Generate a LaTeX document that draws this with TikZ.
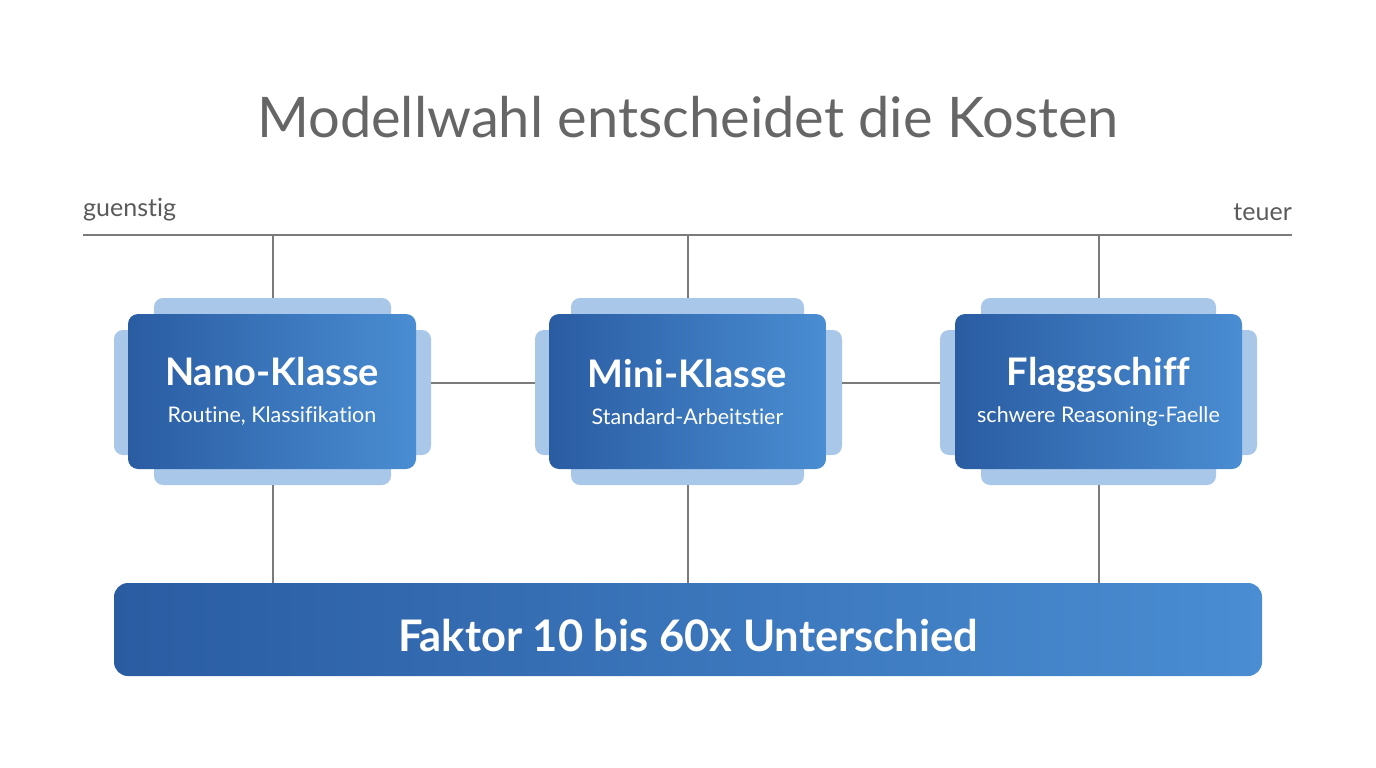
\documentclass[tikz,border=0pt]{standalone}
\usepackage{fontspec}
\setmainfont{Lato}[Ligatures=NoCommon]
\usetikzlibrary{positioning}
\definecolor{dunkelblau}{HTML}{2A5CA2}
\definecolor{hellblau}{HTML}{4A8DD2}
\definecolor{blassblau}{HTML}{A9C8E9}
\definecolor{linie}{HTML}{7B7B7B}
\definecolor{titelgrau}{HTML}{666666}
\definecolor{textgrau}{HTML}{5A5A5A}
\tikzset{
  klasse/.style={rounded corners=10pt,left color=dunkelblau,right color=hellblau,
    minimum width=288pt,minimum height=155pt,inner sep=0pt,text=white,align=center,
    font=\fontsize{21.5}{37}\selectfont},
  schatten/.style={rounded corners=9pt,fill=blassblau,inner sep=0pt},
  verbinder/.style={draw=linie,line width=2pt},
}
\newcommand{\kopfzeile}[1]{{\fontsize{38}{37}\selectfont\bfseries #1}}
\begin{document}
\begin{tikzpicture}[x=1pt,y=-1pt]
\path[use as bounding box] (0,0) rectangle (1376,768);
% titel und achse
\node[anchor=center,inner sep=0pt,text=titelgrau,font=\fontsize{56}{62}\selectfont] (titel) at (688,117) {Modellwahl entscheidet die Kosten};
\node[anchor=south west,inner sep=0pt,text=textgrau,font=\fontsize{25}{28}\selectfont] (guenstig) at (83,221) {guenstig};
\node[anchor=south east,inner sep=0pt,text=textgrau,font=\fontsize{25}{28}\selectfont] (teuer) at (1292,221) {teuer};
\coordinate (links) at (83,235);
\coordinate (rechts) at (1292,235);
\draw[verbinder] (links) -- (rechts);
% nano
\node[schatten,minimum width=237pt,minimum height=187pt] (nanoT) at (272.5,391.5) {};
\node[schatten,minimum width=317pt,minimum height=125pt] (nanoB) at (272.5,392.5) {};
\node[klasse] (nano) at (272,391.5) {\kopfzeile{Nano-Klasse}\\Routine, Klassifikation};
% mini
\node[schatten,minimum width=233pt,minimum height=187pt] (miniT) at (687.5,391.5) {};
\node[schatten,minimum width=307pt,minimum height=125pt] (miniB) at (688.5,392.5) {};
\node[klasse,minimum width=277pt] (mini) at (687.5,391.5) {\kopfzeile{Mini-Klasse}\\Standard-Arbeitstier};
% flaggschiff
\node[schatten,minimum width=235pt,minimum height=187pt] (flaggT) at (1098.5,391.5) {};
\node[schatten,minimum width=317pt,minimum height=125pt] (flaggB) at (1098.5,392.5) {};
\node[klasse,minimum width=287pt] (flagg) at (1098.5,391.5) {\kopfzeile{Flaggschiff}\\schwere Reasoning-Faelle};
% balken
\node[rounded corners=14pt,left color=dunkelblau,right color=hellblau,minimum width=1148pt,minimum height=93pt,inner sep=0pt,text=white,font=\fontsize{43.5}{48}\selectfont\bfseries] (faktor) at (688,629.5) {\raisebox{-22pt}[0pt][0pt]{Faktor 10 bis 60x Unterschied}};
% verbindungen
\draw[verbinder] (nanoT.north |- links) -- (nanoT.north);
\draw[verbinder] (miniT.north |- links) -- (miniT.north);
\draw[verbinder] (flaggT.north |- links) -- (flaggT.north);
\draw[verbinder] (nanoT.south) -- (nanoT.south |- faktor.north);
\draw[verbinder] (miniT.south) -- (miniT.south |- faktor.north);
\draw[verbinder] (flaggT.south) -- (flaggT.south |- faktor.north);
\draw[verbinder] ([yshift=9.5pt]nanoB.east) -- ([yshift=9.5pt]miniB.west);
\draw[verbinder] ([yshift=9.5pt]miniB.east) -- ([yshift=9.5pt]flaggB.west);
\end{tikzpicture}
\end{document}
